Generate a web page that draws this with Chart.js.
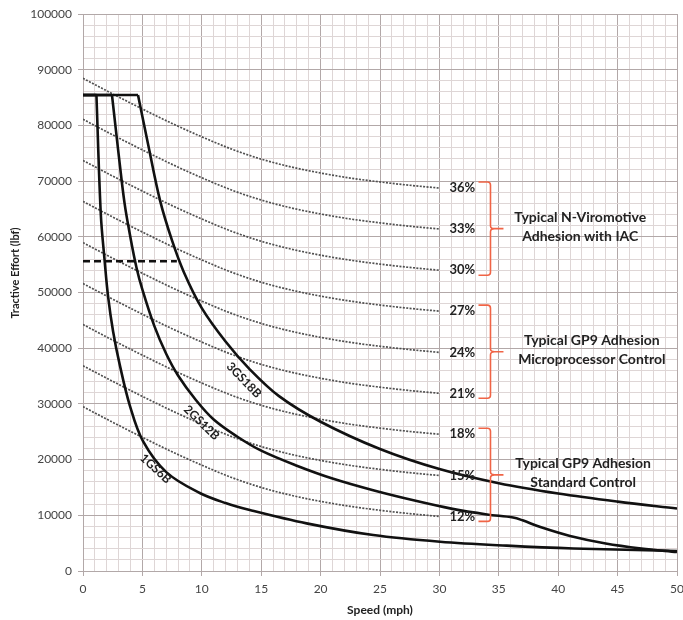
<!DOCTYPE html>
<html><head><meta charset="utf-8">
<script src="https://cdn.jsdelivr.net/npm/chart.js@4.4.1/dist/chart.umd.min.js"></script>
<style>html,body{margin:0;padding:0;background:#fff}#wrap{width:683px;height:620px;position:relative}</style>
</head><body><div id="wrap"><canvas id="c"></canvas></div>
<script>
// ---- axis ticks ----
const xMajorTicks = [0,5,10,15,20,25,30,35,40,45,50];
const yMajorTicks = [0,10000,20000,30000,40000,50000,60000,70000,80000,90000,100000];

// ---- adhesion (dotted) curves ----
const adhesionSpeeds = [0,2.5,5,7.5,10,12.5,15,17.5,20,22.5,25,27.5,30];
const adhesionLabels = ['36%','33%','30%','27%','24%','21%','18%','15%','12%'];
const adh36 = [88450,85650,82950,80350,77950,75750,73950,72550,71450,70550,69850,69250,68750];
const adh33 = [81100,78300,75600,73000,70600,68400,66600,65200,64100,63200,62500,61900,61400];
const adh30 = [73700,70900,68200,65600,63200,61000,59200,57800,56700,55800,55100,54500,54000];
const adh27 = [66350,63550,60850,58250,55850,53650,51850,50450,49350,48450,47750,47150,46650];
const adh24 = [58950,56150,53450,50850,48450,46250,44450,43050,41950,41050,40350,39750,39250];
const adh21 = [51600,48800,46100,43500,41100,38900,37100,35700,34600,33700,33000,32400,31900];
const adh18 = [44250,41450,38750,36150,33750,31550,29750,28350,27250,26350,25650,25050,24550];
const adh15 = [36850,34050,31350,28750,26350,24150,22350,20950,19850,18950,18250,17650,17150];
const adh12 = [29500,26700,24000,21400,19000,16800,15000,13600,12500,11600,10900,10300,9800];
const adhesionSeries = [adh36,adh33,adh30,adh27,adh24,adh21,adh18,adh15,adh12];

// ---- tractive effort (solid) curves ----
const curveNames = ['1GS6B','2GS12B','3GS18B'];
const gs1Speeds = [0,1.13,1.5,1.83,2.11,2.53,3.09,3.93,5.05,7.03,9.83,12,14.04,18.82,24.43,30.05,35.67,41.28,50];
const gs1Values = [85450,85450,64000,55500,49300,43050,37050,29800,23300,17700,14000,12200,10950,8550,6450,5250,4550,4050,3600];
const gs2Speeds = [0,2.44,3,3.5,4,4.5,5,6,7,8,9.5,11,13,15,18,21,24.5,28,31,34,36.2,37,38.5,41,44,47,50];
const gs2Values = [85450,85450,74800,66000,59800,54500,50500,44000,39000,35100,30700,27200,24100,21600,18900,16600,14450,12600,11200,10150,9600,9100,7900,6300,4950,4050,3400];
const gs3Speeds = [0,4.63,5.5,6.5,7.5,8.5,10,12,14,16.5,20,25,30,35,40,45,50];
const gs3Values = [85450,85450,76400,66400,59300,53600,47200,41200,36300,31400,26800,21900,18300,15750,13900,12450,11210];

// ---- dashed line ----
const dashSpeeds = [0,7.9];
const dashValues = [55600,55600];

// ---- annotation texts ----
const groupTexts = [
  ['Typical N-Viromotive','Adhesion with IAC'],
  ['Typical GP9 Adhesion','Microprocessor Control'],
  ['Typical GP9 Adhesion','Standard Control']
];

const pts = (xs, ys) => xs.map((v,i)=>({x:v,y:ys[i]}));

const datasets = [];
[[gs1Speeds,gs1Values],[gs2Speeds,gs2Values],[gs3Speeds,gs3Values]].forEach(([xs,ys],k)=>{
  datasets.push({label:curveNames[k]+' flat', data:pts(xs.slice(0,2),ys.slice(0,2)), borderColor:'#111', borderWidth:2.6, pointRadius:0, tension:0, order:0});
  datasets.push({label:curveNames[k], data:pts(xs.slice(1),ys.slice(1)), borderColor:'#111', borderWidth:2.6, pointRadius:0, tension:0.35, borderJoinStyle:'round', order:0});
});
datasets.push({label:'dashed', data:pts(dashSpeeds,dashValues), borderColor:'#111', borderWidth:2.4, borderDash:[7,4], pointRadius:0, order:1});
adhesionSeries.forEach((s,i)=>{
  datasets.push({label:adhesionLabels[i], data:pts(adhesionSpeeds,s), borderColor:'rgb(80,80,80)', borderWidth:1.7, borderDash:[2,1.4], pointRadius:0, cubicInterpolationMode:'monotone', order:2});
});

const MAJOR = 'rgb(178,168,168)';
const MINOR = 'rgb(222,214,214)';
const FONT = 'Lato';

const overlay = {
  id:'overlay',
  afterDatasetsDraw(chart){
    const {ctx, scales:{x,y}, chartArea} = chart;
    ctx.save();
    ctx.font = `bold 13px ${FONT}`;
    ctx.fillStyle = '#222';
    ctx.textAlign = 'left';
    ctx.textBaseline = 'middle';
    adhesionSeries.forEach((s,i)=>{
      ctx.fillText(adhesionLabels[i], x.getPixelForValue(adhesionSpeeds[adhesionSpeeds.length-1]) + 10, y.getPixelForValue(s[s.length-1]));
    });
    const braces = [[adh36,adh30],[adh27,adh21],[adh18,adh12]];
    const centers = [41.85, 42.83, 42.1];
    ctx.strokeStyle = 'rgb(240,100,70)';
    ctx.lineWidth = 1.6;
    braces.forEach(([a,b],k)=>{
      const xb = x.getPixelForValue(34.3);
      const top = y.getPixelForValue(a[a.length-1]) - 6;
      const bot = y.getPixelForValue(b[b.length-1]) + 5;
      const mid = (top+bot)/2;
      ctx.beginPath();
      ctx.moveTo(xb-12, top);
      ctx.lineTo(xb-3, top);
      ctx.quadraticCurveTo(xb, top, xb, top+3);
      ctx.lineTo(xb, mid-3);
      ctx.quadraticCurveTo(xb, mid, xb+4, mid);
      ctx.lineTo(xb+13, mid);
      ctx.moveTo(xb+4, mid);
      ctx.quadraticCurveTo(xb, mid, xb, mid+3);
      ctx.lineTo(xb, bot-3);
      ctx.quadraticCurveTo(xb, bot, xb-3, bot);
      ctx.lineTo(xb-12, bot);
      ctx.stroke();
      ctx.font = `bold 14px ${FONT}`;
      ctx.fillStyle = '#222';
      ctx.textAlign = 'center';
      const cx = x.getPixelForValue(centers[k]);
      const cy = mid - 2;
      ctx.fillText(groupTexts[k][0], cx, cy - 9);
      ctx.fillText(groupTexts[k][1], cx, cy + 9.5);
    });
    const lab = [[6.11,18360,43],[9.97,26620,44],[13.54,34260,46]];
    ctx.font = `bold 12px ${FONT}`;
    ctx.fillStyle = '#222';
    ctx.textAlign = 'center';
    ctx.textBaseline = 'middle';
    lab.forEach(([vx,vy,ang],k)=>{
      ctx.save();
      ctx.translate(x.getPixelForValue(vx), y.getPixelForValue(vy));
      ctx.rotate(ang*Math.PI/180);
      ctx.fillText(curveNames[k], 0, 0);
      ctx.restore();
    });
    ctx.font = `bold 12px ${FONT}`;
    ctx.fillStyle = '#222';
    ctx.textAlign = 'center';
    ctx.fillText('Speed (mph)', (chartArea.left+chartArea.right)/2, 610);
    ctx.save();
    ctx.translate(15, 273);
    ctx.rotate(-Math.PI/2);
    ctx.font = `bold 11px ${FONT}`;
    ctx.fillText('Tractive Effort (lbf)', 0, 0);
    ctx.restore();
    ctx.restore();
  }
};

new Chart(document.getElementById('c'), {
  type:'line',
  data:{datasets},
  plugins:[overlay],
  options:{
    responsive:true, maintainAspectRatio:false, animation:false,
    layout:{padding:{top:14,right:6,left:0,bottom:0}},
    plugins:{legend:{display:false}, tooltip:{enabled:false}},
    scales:{
      x:{type:'linear', min:0, max:50,
        afterFit(s){ s.height = 49; s.paddingLeft = 0; s.paddingRight = 0; },
        border:{color:MAJOR},
        grid:{color:c=>c.tick && c.tick.value%5===0 ? MAJOR : MINOR, tickLength:5,
              tickColor:c=>c.tick && c.tick.value%5===0 ? MAJOR : 'rgba(0,0,0,0)'},
        ticks:{stepSize:1, autoSkip:false, maxRotation:0, maxTicksLimit:200, padding:6,
               color:'#444', font:{family:FONT, size:12},
               callback:v=> xMajorTicks.includes(v) ? String(v) : ''}
      },
      y:{type:'linear', min:0, max:100000,
        afterFit(s){ s.width = 83; s.paddingTop = 0; s.paddingBottom = 0; },
        border:{color:MAJOR},
        grid:{color:c=>c.tick && c.tick.value%10000===0 ? MAJOR : MINOR, tickLength:5,
              tickColor:c=>c.tick && c.tick.value%10000===0 ? MAJOR : 'rgba(0,0,0,0)'},
        ticks:{stepSize:2000, autoSkip:false, maxTicksLimit:200, padding:6,
               color:'#444', font:{family:FONT, size:12},
               callback:v=> yMajorTicks.includes(v) ? String(v) : ''}
      }
    }
  }
});
</script></body></html>
